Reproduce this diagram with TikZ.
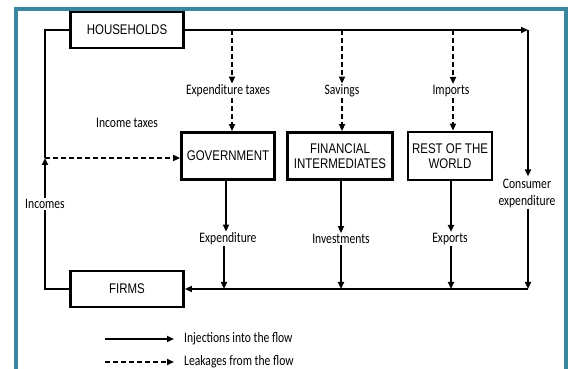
\documentclass[tikz,border=0pt]{standalone}
\usepackage{fontspec}
\newfontfamily\boxfont[FakeStretch=0.82]{Liberation Sans}
\newfontfamily\lblfont[FakeStretch=0.8]{Carlito}
\usetikzlibrary{arrows.meta}
\definecolor{frameteal}{RGB}{58,135,160}
\begin{document}
\begin{tikzpicture}[x=1pt,y=1pt,
  sbox/.style={draw,line width=2.8pt,minimum width=#1,font=\boxfont\fontsize{14}{15}\selectfont,align=center,inner sep=1pt},
  lbl/.style={font=\lblfont\fontsize{14.5}{17}\selectfont,inner sep=1pt,align=center},
  flow/.style={line width=1.9pt,-{Triangle[length=7pt,width=6pt]}},
  plain/.style={line width=1.9pt},
  leak/.style={line width=1.9pt,dash pattern=on 5pt off 3pt,-{Triangle[length=7pt,width=6pt]}}]
\useasboundingbox (0,0) rectangle (573,369);
\clip (0,0) rectangle (573,369);
\fill[white] (0,0) rectangle (573,369);
\draw[frameteal,line width=4pt] (16,-20) -- (16,360) -- (565.5,360) -- (565.5,-20);

% boxes
\node[sbox=113pt,minimum height=36pt] (hh) at (127,339) {HOUSEHOLDS};
\node[sbox=113pt,minimum height=36pt] (firms) at (127,80) {FIRMS};
\node[sbox=93pt,minimum height=47pt] (gov) at (228,213) {GOVERNMENT};
\node[sbox=105pt,minimum height=47pt] (fin) at (340,213) {FINANCIAL\\INTERMEDIATES};
\node[sbox=84pt,minimum height=48pt] (row) at (450,213) {REST OF THE\\WORLD};

% coordinates
\coordinate (tr) at (528,339);
\coordinate (br) at (528,80);
\coordinate (itx) at (45,211);
\coordinate (tg) at (232,339);
\coordinate (tf) at (342,339);
\coordinate (tw) at (453,339);

% labels
\node[lbl] (lexpt) at (228,278) {Expenditure taxes};
\node[lbl] (lsav) at (342,278) {Savings};
\node[lbl] (limp) at (451,278) {Imports};
\node[lbl] (linct) at (127,246) {Income taxes};
\node[lbl] (lexp) at (228,130) {Expenditure};
\node[lbl] (linv) at (341,130) {Investments};
\node[lbl] (lexo) at (450,130) {Exports};
\node[lbl] (lcons) at (527,176) {Consumer\\expenditure};

% main loop
\draw[flow] (hh.east) -- (tr);
\draw[flow] (tr) -- ([yshift=1pt]lcons.north -| tr);
\draw[flow] (lcons.south -| tr) -- (br);
\draw[flow] (br) -- (firms.east);
\draw[flow] (firms.west) -| (itx);
\draw[plain] (itx) |- (hh.west);
\node[lbl,fill=white] (linc) at (45,165) {Incomes};

% leakages
\draw[leak] (tg) -- (lexpt.north -| tg);
\draw[leak] (lexpt.south -| tg) -- (gov.north -| tg);
\draw[leak] (tf) -- (lsav.north -| tf);
\draw[leak] (lsav.south -| tf) -- (fin.north -| tf);
\draw[leak] (tw) -- (limp.north -| tw);
\draw[leak] (limp.south -| tw) -- (row.north -| tw);
\draw[leak] (itx) -- (itx -| gov.west);

% injections
\draw[flow] (gov.south -| 226,0) -- (lexp.north -| 226,0);
\draw[flow] (lexp.south -| 224,0) -- (br -| 224,0);
\draw[flow] (fin.south -| 341,0) -- (linv.north -| 341,0);
\draw[flow] (linv.south -| 341,0) -- (br -| 341,0);
\draw[flow] (row.south -| 451,0) -- (lexo.north -| 451,0);
\draw[flow] (lexo.south -| 451,0) -- (br -| 451,0);

% legend
\coordinate (l1a) at (105,30);
\coordinate (l1b) at (174,30);
\coordinate (l2a) at (105,7);
\coordinate (l2b) at (174,7);
\draw[flow] (l1a) -- (l1b);
\draw[leak] (l2a) -- (l2b);
\node[lbl,anchor=west] (leg1) at (183,30) {Injections into the flow};
\node[lbl,anchor=west] (leg2) at (183,7) {Leakages from the flow};
\end{tikzpicture}
\end{document}
